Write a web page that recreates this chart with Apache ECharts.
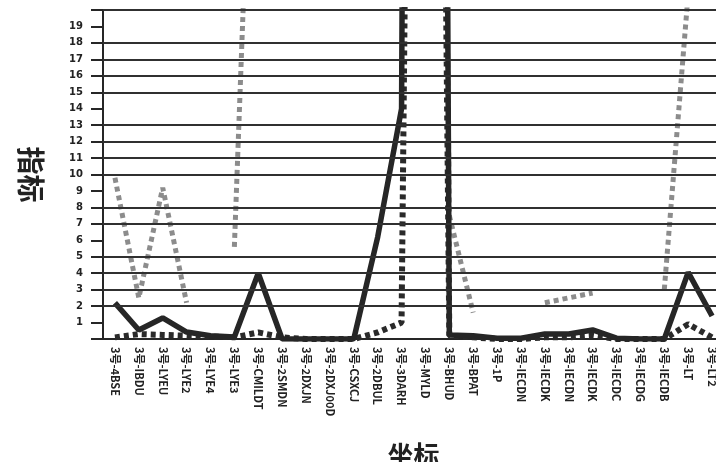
<!DOCTYPE html>
<html>
<head>
<meta charset="utf-8">
<script src="https://cdn.jsdelivr.net/npm/echarts@6/dist/echarts.min.js"></script>
<style>html,body{margin:0;padding:0;background:#fff;}#c{width:716px;height:462px;}</style>
</head>
<body>
<div id="c"></div>
<script>
const prefix = '3号-';
const codes = ['4BSE','IBDU','LYEU','LYE2','LYE4','LYE3','CMILDT','2SMDN','2DXJN','2DXJ00D','CSXCJ','2DBUL','3DARH','MYLD','BHUD','BPAT','1P','IECDN','IECDK','IECDN','IECDK','IECDC','IECDG','IECDB','LT','LT2'];
const categories = codes.map(c => prefix + c);
const solidSeries = [2.2, 0.55, 1.28, 0.42, 0.2, 0.12, 4.0, 0, 0, 0, 0, 6.2, 14, 300, 0.25, 0.2, 0.05, 0.05, 0.3, 0.3, 0.55, 0.05, 0, 0, 4.05, 1.4];
const graySeries = [9.8, 2.5, 9.2, 2.2, null, 5.6, 45, 50, 55, 60, 70, 90, 120, 150, 7.5, 1.6, null, null, 2.2, 2.5, 2.8, null, null, 3.0, 21, 28];
const dashSeries = [0.1, 0.3, 0.25, 0.2, 0.15, 0.1, 0.4, 0.1, 0, 0, 0, 0.4, 1.0, 150, 0.2, 0.1, 0, 0, 0.1, 0.1, 0.2, 0, 0, 0, 0.9, 0.1];
const gridLevels = [2, 3, 4, 5, 7, 8, 10, 11, 12, 13, 15, 16, 17, 18, 20];
const yMin = 0, yMax = 20, yInterval = 1;

const chart = echarts.init(document.getElementById('c'));
chart.setOption({
  animation: false,
  backgroundColor: '#fff',
  grid: { left: 103, top: 10, width: 621, height: 329, outerBoundsMode: 'none', containLabel: false },
  xAxis: {
    type: 'category',
    data: categories,
    boundaryGap: true,
    name: '坐标',
    nameLocation: 'middle',
    nameGap: 103,
    nameTextStyle: { fontSize: 26, fontWeight: 'bold', color: '#222', fontFamily: 'Noto Sans CJK SC' },
    axisLine: { lineStyle: { color: '#262626', width: 2 } },
    axisTick: { alignWithLabel: true, length: 4, lineStyle: { color: '#262626', width: 3 } },
    axisLabel: { rotate: -90, margin: 8, interval: 0, fontSize: 11, fontWeight: 'bold', color: '#222', fontFamily: 'Noto Sans CJK SC' },
    splitLine: { show: false }
  },
  yAxis: {
    type: 'value',
    min: yMin, max: yMax, interval: yInterval,
    name: '指标',
    nameLocation: 'middle',
    nameRotate: -90,
    nameGap: 58,
    nameTextStyle: { fontSize: 28, fontWeight: 'bold', color: '#222', fontFamily: 'Noto Sans CJK SC' },
    axisLine: { show: true, lineStyle: { color: '#262626', width: 2 } },
    axisTick: { show: true, length: 12, lineStyle: { color: '#262626', width: 2 } },
    axisLabel: { margin: 20, fontSize: 10, fontWeight: 'bold', color: '#222', fontFamily: 'DejaVu Sans',
      formatter: v => (v === yMin || v === yMax) ? '' : String(v) },
    splitLine: { show: false }
  },
  series: [
    {
      name: 'grid', type: 'line', data: categories.map(() => null), z: 1, silent: true,
      markLine: {
        silent: true, symbol: ['none', 'none'], label: { show: false },
        lineStyle: { color: '#303030', width: 2, type: 'solid' },
        data: gridLevels.map(v => ({ yAxis: v }))
      }
    },
    {
      name: 'gray', type: 'line', data: graySeries, showSymbol: false, z: 2, clip: true,
      lineStyle: { color: '#8c8c8c', width: 5, type: [5, 4] }
    },
    {
      name: 'dash', type: 'line', data: dashSeries, showSymbol: false, z: 3, clip: true,
      lineStyle: { color: '#2a2a2a', width: 6, type: [5, 4] }
    },
    {
      name: 'solid', type: 'line', data: solidSeries, showSymbol: false, z: 4, clip: true,
      lineStyle: { color: '#262626', width: 5.5 }
    }
  ]
});
</script>
</body>
</html>
